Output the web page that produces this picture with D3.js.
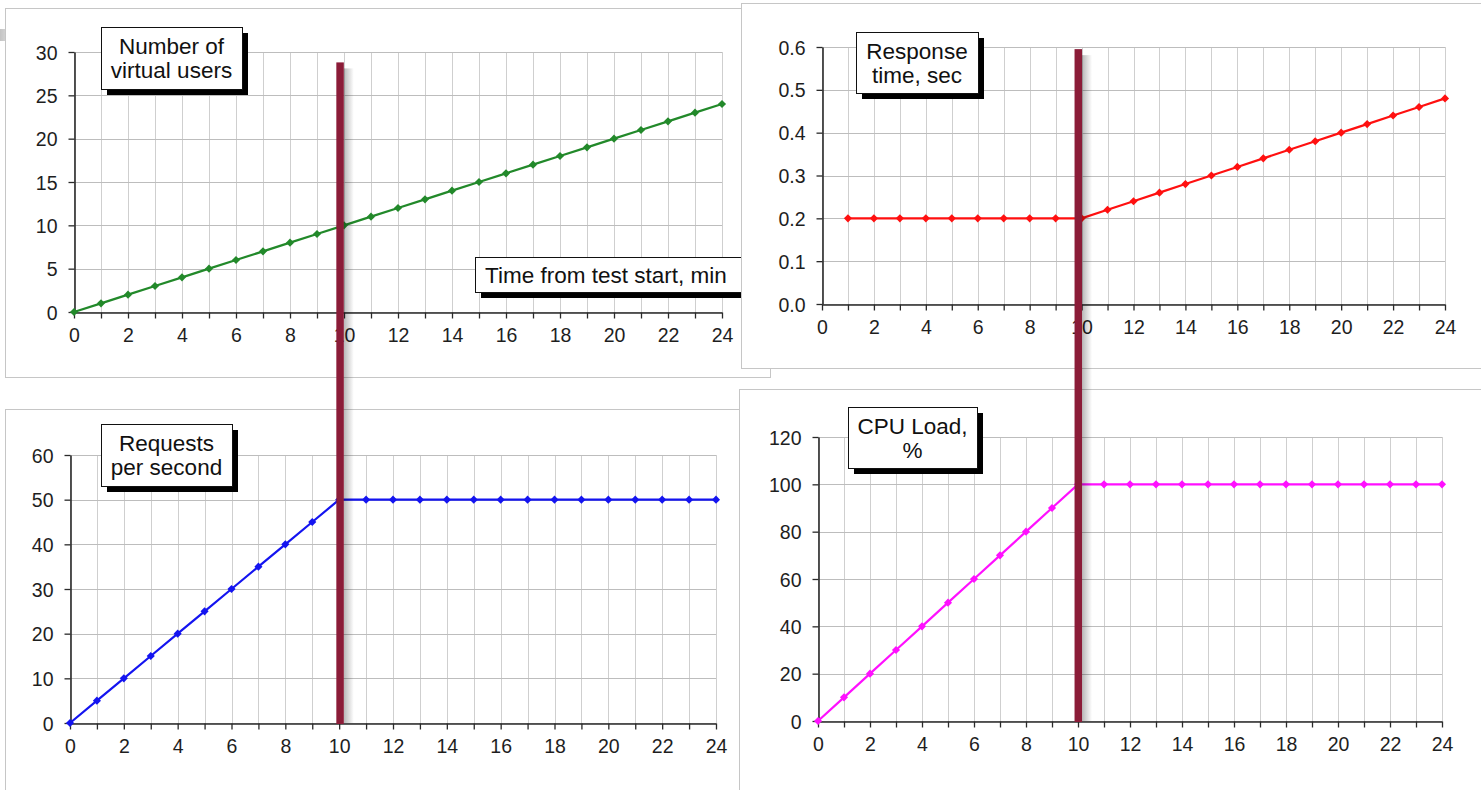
<!DOCTYPE html>
<html>
<head>
<meta charset="utf-8">
<script src="https://cdn.jsdelivr.net/npm/d3@7"></script>
<style>
  html, body { margin: 0; padding: 0; background: #fff; }
  svg { display: block; font-family: "Liberation Sans", Arial, sans-serif; }
</style>
</head>
<body>
<svg id="chart" width="1481" height="790"></svg>
<script>
// ---- data -------------------------------------------------------------
const minutes = [0, 1, 2, 3, 4, 5, 6, 7, 8, 9, 10, 11, 12, 13, 14, 15, 16, 17, 18, 19, 20, 21, 22, 23, 24];
const virtualUsers = [0, 1, 2, 3, 4, 5, 6, 7, 8, 9, 10, 11, 12, 13, 14, 15, 16, 17, 18, 19, 20, 21, 22, 23, 24];
const responseMinutes = [1, 2, 3, 4, 5, 6, 7, 8, 9, 10, 11, 12, 13, 14, 15, 16, 17, 18, 19, 20, 21, 22, 23, 24];
const responseTime = [0.2, 0.2, 0.2, 0.2, 0.2, 0.2, 0.2, 0.2, 0.2, 0.2, 0.22, 0.24, 0.26, 0.28, 0.30, 0.32, 0.34, 0.36, 0.38, 0.40, 0.42, 0.44, 0.46, 0.48];
const requestsPerSecond = [0, 5, 10, 15, 20, 25, 30, 35, 40, 45, 50, 50, 50, 50, 50, 50, 50, 50, 50, 50, 50, 50, 50, 50, 50];
const cpuLoad = [0, 10, 20, 30, 40, 50, 60, 70, 80, 90, 100, 100, 100, 100, 100, 100, 100, 100, 100, 100, 100, 100, 100, 100, 100];

const minuteTicks = [0, 1, 2, 3, 4, 5, 6, 7, 8, 9, 10, 11, 12, 13, 14, 15, 16, 17, 18, 19, 20, 21, 22, 23, 24];
const usersTicks = [0, 5, 10, 15, 20, 25, 30];
const responseTicks = [0, 0.1, 0.2, 0.3, 0.4, 0.5, 0.6];
const requestsTicks = [0, 10, 20, 30, 40, 50, 60];
const cpuTicks = [0, 20, 40, 60, 80, 100, 120];

const saturationMinute = 10;   // load level where throughput stops growing

// ---- layout -----------------------------------------------------------
const svg = d3.select("#chart");
const tickFont = 19.5;
const boxFont = 22.5;

const defs = svg.append("defs");
const shadowGrad = defs.append("linearGradient").attr("id", "barShadow")
  .attr("x1", "0%").attr("x2", "100%").attr("y1", "0%").attr("y2", "0%");
shadowGrad.append("stop").attr("offset", "0%").attr("stop-color", "#000").attr("stop-opacity", 0.28);
shadowGrad.append("stop").attr("offset", "100%").attr("stop-color", "#000").attr("stop-opacity", 0);
const stripGrad = defs.append("linearGradient").attr("id", "strip")
  .attr("x1", "0%").attr("x2", "100%");
stripGrad.append("stop").attr("offset", "0%").attr("stop-color", "#c4c4c4");
stripGrad.append("stop").attr("offset", "100%").attr("stop-color", "#f4f4f4");

const panels = [
  {
    frame: [5, 8, 765, 369],
    plot: { left: 74, right: 722, top: 52, bottom: 312 },
    yDomain: [0, 30], yTicks: usersTicks, yFormat: d3.format("d"),
    xs: minutes, ys: virtualUsers, color: "#22892a",
    boxes: [
      { x: 101, y: 27, w: 141, h: 62, lines: ["Number of", "virtual users"] },
      { x: 475, y: 257, w: 280, h: 35, lines: ["Time from test start, min"], align: "start", pad: 10 }
    ]
  },
  {
    frame: [741, 3, 745, 365],
    plot: { left: 822, right: 1445, top: 47, bottom: 304 },
    yDomain: [0, 0.6], yTicks: responseTicks, yFormat: d3.format(".1f"),
    xs: responseMinutes, ys: responseTime, color: "#ff1010",
    boxes: [{ x: 856, y: 32, w: 122, h: 61, lines: ["Response", "time, sec"] }]
  },
  {
    frame: [5, 409, 760, 390],
    plot: { left: 70, right: 716, top: 455, bottom: 723 },
    yDomain: [0, 60], yTicks: requestsTicks, yFormat: d3.format("d"),
    xs: minutes, ys: requestsPerSecond, color: "#1414f0",
    boxes: [{ x: 101, y: 424, w: 131, h: 62, lines: ["Requests", "per second"] }]
  },
  {
    frame: [739, 389, 750, 410],
    plot: { left: 818, right: 1442, top: 437, bottom: 721 },
    yDomain: [0, 120], yTicks: cpuTicks, yFormat: d3.format("d"),
    xs: minutes, ys: cpuLoad, color: "#ff10ff",
    boxes: [{ x: 848, y: 407, w: 129, h: 61, lines: ["CPU Load,", "%"] }]
  }
];

// small grey strip at the top-left edge
svg.append("rect").attr("x", 0).attr("y", 29).attr("width", 19).attr("height", 12)
  .attr("fill", "url(#strip)");

panels.forEach(p => {
  const g = svg.append("g");
  const [fx, fy, fw, fh] = p.frame;
  g.append("rect").attr("x", fx + 0.5).attr("y", fy + 0.5).attr("width", fw).attr("height", fh)
    .attr("fill", "#fff").attr("stroke", "#c6c6c6").attr("stroke-width", 1);

  const x = d3.scaleLinear().domain([0, 24]).range([p.plot.left, p.plot.right]);
  const y = d3.scaleLinear().domain(p.yDomain).range([p.plot.bottom, p.plot.top]);
  p.x = x; p.y = y;

  // grid
  g.append("g").selectAll("line").data(minuteTicks).join("line")
    .attr("x1", d => Math.round(x(d)) + 0.5).attr("x2", d => Math.round(x(d)) + 0.5)
    .attr("y1", p.plot.top).attr("y2", p.plot.bottom)
    .attr("stroke", "#cfcfcf").attr("stroke-width", 1);
  g.append("g").selectAll("line").data(p.yTicks).join("line")
    .attr("x1", p.plot.left).attr("x2", p.plot.right)
    .attr("y1", d => Math.round(y(d)) + 0.5).attr("y2", d => Math.round(y(d)) + 0.5)
    .attr("stroke", "#bdbdbd").attr("stroke-width", 1);

  // axes
  const xAxis = d3.axisBottom(x).tickValues(minuteTicks).tickSize(6).tickSizeOuter(0).tickPadding(5)
    .tickFormat(d => d % 2 === 0 ? d : "");
  const gx = g.append("g").attr("transform", `translate(0,${Math.round(p.plot.bottom) + 0.5})`).call(xAxis);
  const yAxis = d3.axisLeft(y).tickValues(p.yTicks).tickSize(6).tickSizeOuter(0).tickPadding(11)
    .tickFormat(p.yFormat);
  const gy = g.append("g").attr("transform", `translate(${Math.round(p.plot.left) + 0.5},0)`).call(yAxis);
  [gx, gy].forEach(a => {
    a.select(".domain").attr("stroke", "#2a2a2a").attr("stroke-width", 1.6);
    a.selectAll(".tick line").attr("stroke", "#2a2a2a").attr("stroke-width", 1.3);
    a.selectAll(".tick text").attr("fill", "#1e1e1e").style("font-size", tickFont + "px")
      .style("font-family", "'Liberation Sans', Arial, sans-serif");
  });
  gx.selectAll(".tick text").attr("dy", "0.95em");
  gy.selectAll(".tick text").attr("dy", "0.36em");

  // series
  const pts = p.xs.map((m, i) => [m, p.ys[i]]);
  g.append("path").datum(pts)
    .attr("d", d3.line().x(d => x(d[0])).y(d => y(d[1])))
    .attr("fill", "none").attr("stroke", p.color).attr("stroke-width", 2.2);
  g.append("g").selectAll("path").data(pts).join("path")
    .attr("transform", d => `translate(${x(d[0])},${y(d[1])})`)
    .attr("d", d3.symbol(d3.symbolDiamond2, 42))
    .attr("fill", p.color);

  // caption boxes with drop shadow
  p.boxes.forEach(b => {
    const bg = g.append("g");
    bg.append("rect").attr("x", b.x + 6).attr("y", b.y + 6).attr("width", b.w).attr("height", b.h).attr("fill", "#000");
    bg.append("rect").attr("x", b.x + 0.5).attr("y", b.y + 0.5).attr("width", b.w).attr("height", b.h)
      .attr("fill", "#fff").attr("stroke", "#111").attr("stroke-width", 1);
    const lh = 24;
    const top = b.y + b.h / 2 - (b.lines.length - 1) * lh / 2;
    b.lines.forEach((t, i) => {
      bg.append("text")
        .attr("x", b.align === "start" ? b.x + b.pad : b.x + b.w / 2)
        .attr("y", top + i * lh).attr("dy", "0.36em")
        .attr("text-anchor", b.align === "start" ? "start" : "middle")
        .style("font-size", boxFont + "px").attr("fill", "#111").text(t);
    });
  });
});

// saturation markers spanning each column of charts
function marker(upper, lower, topValue) {
  const cx = (upper.x(saturationMinute) + lower.x(saturationMinute)) / 2 - 1.5;
  const yTop = upper.y(topValue);
  const yBot = lower.y(0);
  const w = 7.5;
  svg.append("rect").attr("x", cx + w / 2).attr("y", yTop + 6).attr("width", 10).attr("height", yBot - yTop - 6)
    .attr("fill", "url(#barShadow)");
  svg.append("rect").attr("x", cx - w / 2).attr("y", yTop).attr("width", w).attr("height", yBot - yTop + 1)
    .attr("fill", "#8b1c38");
}
marker(panels[0], panels[2], 28.8);
marker(panels[1], panels[3], 0.595);
</script>
</body>
</html>
